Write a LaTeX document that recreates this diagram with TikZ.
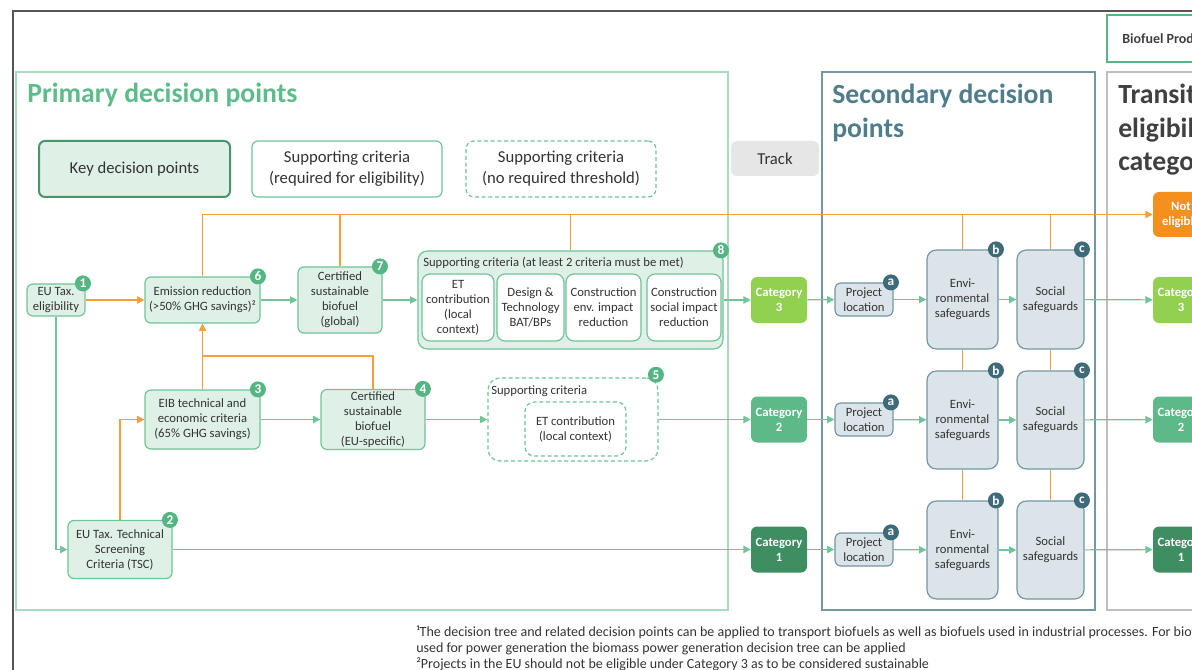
\documentclass[tikz,border=0pt]{standalone}
\usepackage{fontspec}
\setmainfont{Carlito}
\usepackage{tikz}
\usetikzlibrary{arrows.meta}

\definecolor{gline}{RGB}{112,196,152}
\definecolor{gfill}{RGB}{223,241,231}
\definecolor{gdark}{RGB}{73,148,107}
\definecolor{gbadge}{RGB}{85,182,132}
\definecolor{gframe}{RGB}{168,220,193}
\definecolor{sline}{RGB}{116,151,162}
\definecolor{sfill}{RGB}{218,228,233}
\definecolor{sbadgec}{RGB}{63,106,121}
\definecolor{stitle}{RGB}{79,125,140}
\definecolor{ptitle}{RGB}{94,188,138}
\definecolor{ttitle}{RGB}{64,64,64}
\definecolor{txtgrey}{RGB}{51,51,51}
\definecolor{orangeline}{RGB}{247,157,60}
\definecolor{orangefill}{RGB}{244,144,30}
\definecolor{catthree}{RGB}{146,208,80}
\definecolor{cattwo}{RGB}{94,185,137}
\definecolor{catone}{RGB}{62,142,98}
\definecolor{trackgrey}{RGB}{230,230,230}

\begin{document}
\begin{tikzpicture}[x=0.75pt,y=0.75pt,yscale=-1,xscale=1,
  every node/.style={text=txtgrey,font=\fontsize{9.5}{11.25}\selectfont,align=center,inner sep=1.5pt},
  keybox/.style={draw=gline,fill=gfill,rounded corners=4.5pt,line width=0.9pt},
  critbox/.style={draw=gline,fill=white,rounded corners=4.5pt,line width=0.9pt},
  critdash/.style={draw=gline,fill=white,rounded corners=6pt,line width=0.9pt,dash pattern=on 3pt off 2pt},
  secbox/.style={draw=sline,fill=sfill,rounded corners=4.5pt,line width=0.9pt},
  catbox/.style={fill=#1,rounded corners=4.5pt,text=white,font=\fontsize{9.5}{11.25}\selectfont\bfseries,minimum width=42pt,minimum height=34.5pt},
  badge/.style={circle,fill=gbadge,text=white,font=\fontsize{10}{10}\selectfont\bfseries,inner sep=0pt,minimum size=12pt,xshift=-2pt},
  sbadge/.style={badge,fill=sbadgec},
  garrow/.style={draw=gline,line width=0.9pt,-{Triangle[length=5.5pt,width=5.5pt]}},
  oline/.style={draw=orangeline,line width=0.9pt},
  oarrow/.style={oline,-{Triangle[length=5.5pt,width=5.5pt]}},
  legend/.style={font=\fontsize{12.5}{15.75}\selectfont,minimum width=142.5pt,minimum height=42pt}
]
\useasboundingbox (0,0) rectangle (1192,670);
\clip (0,0) rectangle (1192,670);

%Frames
\draw [draw={rgb,255:red,85;green,85;blue,85},line width=1.5pt] (13,700) -- (13,11) -- (1300,11) ;
\draw [draw=gframe,line width=0.9pt] (16,72) rectangle (728,610) ;
\draw [draw=sline,line width=0.9pt] (822,72) rectangle (1095,610) ;
\draw [draw={rgb,255:red,190;green,190;blue,190},line width=0.9pt] (1107,72) rectangle (1320,610) ;
\draw [draw=gbadge,line width=1.5pt] (1107,15) rectangle (1320,62) ;

% Titles
\node [anchor=base west,inner sep=0pt,text=ptitle,font=\fontsize{20.8}{25}\selectfont\bfseries] (tprim) at (27,103) {Primary decision points};
\node [anchor=north west,inner sep=0pt,align=left,text=stitle,font=\fontsize{20.8}{25}\selectfont\bfseries] (tsec) at (832,84) {Secondary decision\\points};
\node [anchor=north west,inner sep=0pt,align=left,text=ttitle,font=\fontsize{20.8}{25}\selectfont\bfseries] (ttra) at (1118,84) {Transition\\eligibility\\categories};
\node [anchor=west,inner sep=0pt,text=ttitle,font=\fontsize{10.5}{12}\selectfont\bfseries] (tprod) at (1122,39) {Biofuel Production};

% Legend
\node [keybox,legend,draw=gdark,line width=1.5pt,minimum width=143.25pt] (lkey) at (134.5,169) {Key decision points};
\node [critbox,legend] (lreq) at (347,169) {Supporting criteria\\(required for eligibility)};
\node [critdash,legend] (lopt) at (561,169) {Supporting criteria\\(no required threshold)};
\node [fill=trackgrey,rounded corners=4.5pt,minimum width=66pt,minimum height=26.25pt,font=\fontsize{12.5}{15}\selectfont] (track) at (775,158.5) {Track};

% Primary decision points
\node [keybox,minimum width=43.5pt,minimum height=24pt] (eutax) at (56,300) {EU Tax.\\eligibility};
\node [keybox,minimum width=86.25pt,minimum height=34.5pt] (emis) at (202.5,300) {Emission reduction\\(>50\% GHG savings)²};
\node [keybox,minimum width=63pt,minimum height=49.5pt] (certglob) at (340,300) {Certified\\sustainable\\biofuel\\(global)};
\node [keybox,minimum width=228.75pt,minimum height=73.5pt,rounded corners=7pt] (supp) at (570.5,300) {};
\node [anchor=west,inner sep=0pt] (supptxt) at (423,263) {Supporting criteria (at least 2 criteria must be met)};
\node [critbox,minimum width=54pt,minimum height=50.25pt,rounded corners=6pt] (etglob) at (458,307.5) {ET\\contribution\\(local\\context)};
\node [critbox,minimum width=50.25pt,minimum height=50.25pt,rounded corners=6pt] (design) at (530.5,307.5) {Design \&\\Technology\\BAT/BPs};
\node [critbox,minimum width=56.25pt,minimum height=50.25pt,rounded corners=6pt] (consenv) at (603.5,307.5) {Construction\\env. impact\\reduction};
\node [critbox,minimum width=55.5pt,minimum height=50.25pt,rounded corners=6pt] (conssoc) at (684,307.5) {Construction\\social impact\\reduction};

\node [keybox,minimum width=86.25pt,minimum height=44.25pt] (eib) at (202.5,419.5) {EIB technical and\\economic criteria\\(65\% GHG savings)};
\node [keybox,minimum width=78pt,minimum height=45pt] (certeu) at (373,419.5) {Certified\\sustainable\\biofuel\\(EU-specific)};
\node [critdash,minimum width=127.5pt,minimum height=62.25pt,rounded corners=9pt] (suppeu) at (573,419.5) {};
\node [anchor=west,inner sep=0pt] (suppeutxt) at (491,391) {Supporting criteria};
\node [critdash,minimum width=75.75pt,minimum height=40.5pt,rounded corners=7pt] (eteu) at (575.5,429) {ET contribution\\(local context)};

\node [keybox,minimum width=78pt,minimum height=43.5pt] (tsc) at (120,549.5) {EU Tax. Technical\\Screening\\Criteria (TSC)};

\node [catbox=catthree] (catc) at (779,300) {Category\\3};
\node [catbox=cattwo] (catb) at (779,419.5) {Category\\2};
\node [catbox=catone] (cata) at (779,549.5) {Category\\1};

% Secondary decision points
\node [secbox,minimum width=43.5pt,minimum height=24.75pt] (locc) at (864,299.5) {Project\\location};
\node [secbox,minimum width=53.25pt,minimum height=74.25pt,rounded corners=7pt] (envc) at (962.5,299.5) {Envi-\\ronmental\\safeguards};
\node [secbox,minimum width=50.25pt,minimum height=74.25pt,rounded corners=7pt] (socc) at (1050.5,299.5) {Social\\safeguards};
\node [secbox,minimum width=43.5pt,minimum height=24.75pt] (locb) at (864,419.5) {Project\\location};
\node [secbox,minimum width=53.25pt,minimum height=73.5pt,rounded corners=7pt] (envb) at (962.5,420) {Envi-\\ronmental\\safeguards};
\node [secbox,minimum width=50.25pt,minimum height=73.5pt,rounded corners=7pt] (socb) at (1050.5,420) {Social\\safeguards};
\node [secbox,minimum width=43.5pt,minimum height=24.75pt] (loca) at (864,549.5) {Project\\location};
\node [secbox,minimum width=53.25pt,minimum height=73.5pt,rounded corners=7pt] (enva) at (962.5,550) {Envi-\\ronmental\\safeguards};
\node [secbox,minimum width=50.25pt,minimum height=73.5pt,rounded corners=7pt] (soca) at (1050.5,550) {Social\\safeguards};

% Transition eligibility categories
\node [catbox=orangefill,minimum height=33.75pt] (noteli) at (1181,214.5) {Not\\eligible};
\node [catbox=catthree] (rcatc) at (1181,300) {Category\\3};
\node [catbox=cattwo] (rcatb) at (1181,419.5) {Category\\2};
\node [catbox=catone] (rcata) at (1181,549.5) {Category\\1};

% Badges
\node [badge] (b1) at (eutax.north east) {1};
\node [badge] (b2) at (tsc.north east) {2};
\node [badge] (b3) at (eib.north east) {3};
\node [badge] (b4) at (certeu.north east) {4};
\node [badge] (b5) at ([yshift=-2pt]suppeu.north east) {5};
\node [badge] (b6) at (emis.north east) {6};
\node [badge] (b7) at (certglob.north east) {7};
\node [badge] (b8) at (supp.north east) {8};
\foreach \r in {a,b,c}{
  \node [sbadge] (ba\r) at (loc\r.north east) {a};
  \node [sbadge] (bb\r) at (env\r.north east) {b};
  \node [sbadge] (bc\r) at (soc\r.north east) {c};
}

% Orange connectors
\coordinate (join) at (202.5,356);
\draw [oarrow] (eutax) -- (emis) ;
\draw [oarrow] (tsc.north) |- (eib.west) ;
\draw [oarrow] (eib) -- (emis) ;
\draw [oline] (certeu.north) |- (join) ;
\draw [oarrow] (emis.north) |- (noteli.west) ;
\foreach \n in {certglob,supp,envc,socc}{
  \draw [oline] (\n.north) -- (\n.north |- noteli.west) ;
}
\draw [oline] (envc) -- (envb) ;
\draw [oline] (envb) -- (enva) ;
\draw [oline] (socc) -- (socb) ;
\draw [oline] (socb) -- (soca) ;

% Green connectors
\draw [garrow] (eutax.south) |- (tsc.west) ;
\draw [garrow] (emis) -- (certglob) ;
\draw [garrow] (certglob) -- (supp) ;
\draw [garrow] (supp) -- (catc) ;
\draw [garrow] (eib) -- (certeu) ;
\draw [garrow] (certeu) -- (suppeu) ;
\draw [garrow] (suppeu) -- (catb) ;
\draw [garrow] (tsc) -- (cata) ;
\foreach \r in {a,b,c}{
  \draw [garrow] (cat\r) -- (loc\r) ;
  \draw [garrow] (loc\r) -- (env\r) ;
  \draw [garrow] (env\r) -- (soc\r) ;
  \draw [garrow] (soc\r) -- (rcat\r) ;
}

% Footnotes
\node [anchor=north west,inner sep=0pt,align=left,font=\fontsize{10.5}{12}\selectfont] (notes) at (416,625) {¹The decision tree and related decision points can be applied to transport biofuels as well as biofuels used in industrial processes. For biofuels\\used for power generation the biomass power generation decision tree can be applied\\²Projects in the EU should not be eligible under Category 3 as to be considered sustainable};

\end{tikzpicture}
\end{document}
